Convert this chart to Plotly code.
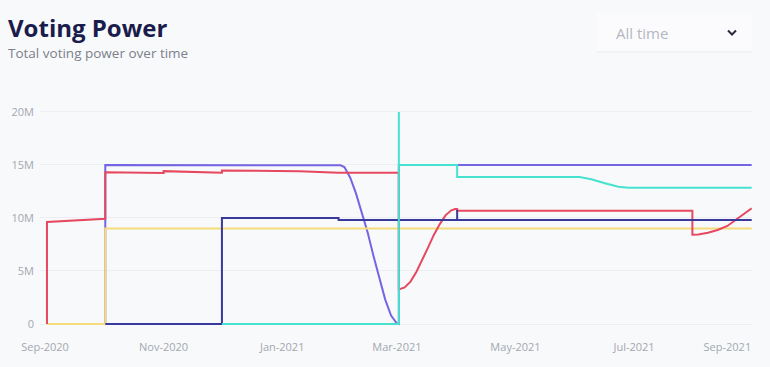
import plotly.graph_objects as go

# ---------------- data (values in millions) ----------------
red_dates = ["2020-09-02", "2020-09-02", "2020-10-02", "2020-10-02", "2020-11-01", "2020-11-01",
             "2020-12-01", "2020-12-01", "2021-01-10", "2021-01-30", "2021-03-02", "2021-03-02",
             "2021-03-05", "2021-03-08", "2021-03-11", "2021-03-14", "2021-03-17", "2021-03-20",
             "2021-03-23", "2021-03-26", "2021-03-29", "2021-03-31", "2021-04-01", "2021-04-01",
             "2021-07-31", "2021-07-31", "2021-08-03", "2021-08-08", "2021-08-13", "2021-08-18",
             "2021-08-23", "2021-08-30 12:00"]
red_vals = [0, 9.62, 9.92, 14.32, 14.25, 14.42, 14.27, 14.48, 14.4, 14.27, 14.27, 3.27,
            3.45, 4.0, 4.9, 6.0, 7.2, 8.4, 9.4, 10.25, 10.72, 10.85, 10.85, 10.68,
            10.68, 8.42, 8.44, 8.6, 8.87, 9.25, 9.95, 10.92]

purple_dates = ["2020-09-02", "2020-10-02", "2020-10-02", "2021-01-30", "2021-01-31", "2021-02-02",
                "2021-02-05", "2021-02-08", "2021-02-11", "2021-02-14", "2021-02-17", "2021-02-20",
                "2021-02-23", "2021-02-26", "2021-03-01", "2021-03-02", "2021-03-02", "2021-08-30 12:00"]
purple_vals = [0, 0, 15, 15, 14.97, 14.8, 13.8, 12.3, 10.5, 8.6, 6.4, 4.3, 2.3, 0.8, 0.05, 0, 15, 15]

navy_dates = ["2020-10-02", "2020-12-01", "2020-12-01", "2021-01-30", "2021-01-30", "2021-04-01",
              "2021-04-01", "2021-04-01", "2021-08-30 12:00"]
navy_vals = [0, 0, 10.0, 10.0, 9.8, 9.8, 10.75, 9.8, 9.8]

cyan_dates = ["2020-12-01", "2021-03-02", "2021-03-02", "2021-03-02", "2021-04-01", "2021-04-01",
              "2021-06-03", "2021-06-09", "2021-06-16", "2021-06-23", "2021-06-28", "2021-08-30 12:00"]
cyan_vals = [0, 0, 20, 15, 15, 13.87, 13.87, 13.65, 13.27, 12.95, 12.86, 12.86]

yellow_dates = ["2020-09-02", "2020-10-02", "2020-10-02", "2021-08-30 12:00"]
yellow_vals = [0, 0, 9.0, 9.0]

x_tickvals = ["2020-09-01", "2020-11-01", "2021-01-01", "2021-03-01", "2021-05-01", "2021-07-01", "2021-08-18"]
x_ticktext = ["Sep-2020", "Nov-2020", "Jan-2021", "Mar-2021", "May-2021", "Jul-2021", "Sep-2021"]
y_tickvals = [0, 5, 10, 15, 20]
y_ticktext = ["0", "5M", "10M", "15M", "20M"]

# ---------------- layout helpers ----------------
W, H = 770, 367
PL, PR, PT, PB = 40, 752, 100, 330


def px2x(px):
    return (px - PL) / (PR - PL)


def py2y(py):
    return (PB - py) / (PB - PT)


BG = "#f8f9fb"
fig = go.Figure()

series = [
    (purple_dates, purple_vals, "#7465e2"),
    (yellow_dates, yellow_vals, "#f5db7a"),
    (red_dates, red_vals, "#e6485f"),
    (navy_dates, navy_vals, "#39399b"),
    (cyan_dates, cyan_vals, "#46e2cf"),
]
for xs, ys, col in series:
    fig.add_trace(go.Scatter(x=xs, y=ys, mode="lines", line=dict(color=col, width=2),
                             hoverinfo="skip", showlegend=False))

fig.update_layout(
    width=W, height=H,
    margin=dict(l=PL, r=W - PR, t=PT, b=H - PB),
    paper_bgcolor=BG, plot_bgcolor=BG,
    xaxis=dict(type="date", range=["2020-08-29 10:00", "2021-08-30 16:00"],
               tickvals=x_tickvals, ticktext=x_ticktext, showgrid=False, zeroline=False,
               showline=False, ticks="", ticklabelstandoff=9,
               tickfont=dict(family="Open Sans", size=11, color="#a3a7b0")),
    yaxis=dict(range=[-0.566, 21.13], tickvals=y_tickvals, ticktext=y_ticktext,
               showgrid=True, gridcolor="#eceef3", gridwidth=1, zeroline=False,
               showline=False, ticks="", ticklabelstandoff=5,
               tickfont=dict(family="Open Sans", size=11, color="#a3a7b0")),
    hovermode=False,
)

# title & subtitle
fig.add_annotation(xref="paper", yref="paper", x=px2x(7), y=py2y(27), xanchor="left", yanchor="middle",
                   text="<b>Voting Power</b>", showarrow=False, borderpad=0,
                   font=dict(family="Open Sans", size=24, color="#1a1c4b"))
fig.add_annotation(xref="paper", yref="paper", x=px2x(7), y=py2y(53), xanchor="left", yanchor="middle",
                   text="Total voting power over time", showarrow=False, borderpad=0,
                   font=dict(family="Open Sans", size=13.5, color="#7c808b"))

# dropdown box
fig.add_shape(type="rect", xref="paper", yref="paper", x0=px2x(597), x1=px2x(752),
              y0=py2y(52), y1=py2y(12), fillcolor="#fbfbfd", line=dict(width=0), layer="below")
fig.add_shape(type="line", xref="paper", yref="paper", x0=px2x(597), x1=px2x(752),
              y0=py2y(52), y1=py2y(52), line=dict(color="#e9ebef", width=1))
fig.add_annotation(xref="paper", yref="paper", x=px2x(615), y=py2y(33), xanchor="left", yanchor="middle",
                   text="All time", showarrow=False, borderpad=0,
                   font=dict(family="Open Sans", size=15, color="#b4b7bf"))
chev = "M {} {} L {} {} L {} {}".format(px2x(728), py2y(30.5), px2x(732), py2y(34.5), px2x(736), py2y(30.5))
fig.add_shape(type="path", xref="paper", yref="paper", path=chev,
              line=dict(color="#2b2d3a", width=2))

fig.write_html("out.html", config={"displayModeBar": False, "staticPlot": True})
